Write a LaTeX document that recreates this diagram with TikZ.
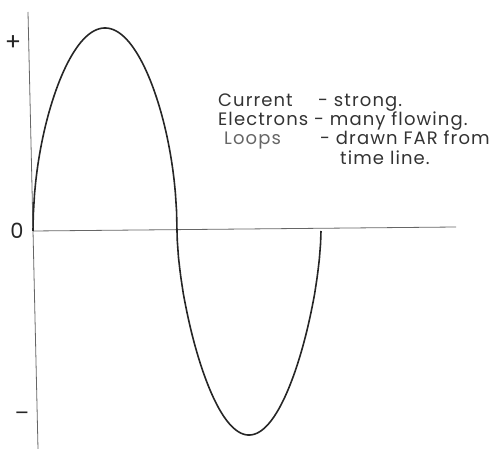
\documentclass[tikz,border=0pt]{standalone}
\usepackage{fontspec}
\setmainfont{Poppins}[LetterSpace=6]
\begin{document}
\begin{tikzpicture}[x=1pt,y=-1pt]
    % Define styles
    \tikzstyle{axis} = [draw=black!60, line width=0.8pt]
    \tikzstyle{wave} = [draw=black!85, line width=1.6pt, line join=round]
    \tikzstyle{note} = [anchor=base west, inner sep=0pt, font=\fontsize{18}{20}\selectfont, text=black!80]
    \tikzstyle{sign} = [inner sep=0pt, font=\fontsize{21}{23}\selectfont, text=black!85]
    \useasboundingbox (0,0) rectangle (504,449);

    % Axes
    \coordinate (origin) at (33,231);
    \coordinate (top) at (28,12);
    \coordinate (bottom) at (38,449);
    \coordinate (right) at (456,227);
    \coordinate (cross) at (177,231);
    \coordinate (stop) at (321,231);
    \draw [axis] (top) -- (bottom);
    \draw [axis] (origin) -- (right);

    % Signs
    \node (plus) [sign, font=\fontsize{24}{26}\selectfont] at (13,43) {+};
    \node (zero) [sign] at (17,231) {0};
    \node (minus) [sign] at (22,416) {--};

    % Wave: one full cycle, lobes drawn wide at the base
    \draw [wave] (origin)
        -- plot [domain=0.002:0.998, samples=120] ({33+144*\x}, {231-203*sqrt(sin(180*\x))})
        -- (cross)
        -- plot [domain=0.002:0.998, samples=120] ({177+144*\x}, {231+204*sin(180*\x)^0.6})
        -- (stop);

    % Notes
    \node (current) [note] at (218,107) {Current};
    \node (strong) [note] at (318,107) {- strong.};
    \node (electrons) [note] at (218,126) {Electrons};
    \node (many) [note] at (314,126) {- many flowing.};
    \node (loops) [note, text=black!60] at (224,145) {Loops};
    \node (drawn) [note] at (320,145) {- drawn FAR from};
    \node (timeline) [note] at (340,165) {time line.};
\end{tikzpicture}
\end{document}
